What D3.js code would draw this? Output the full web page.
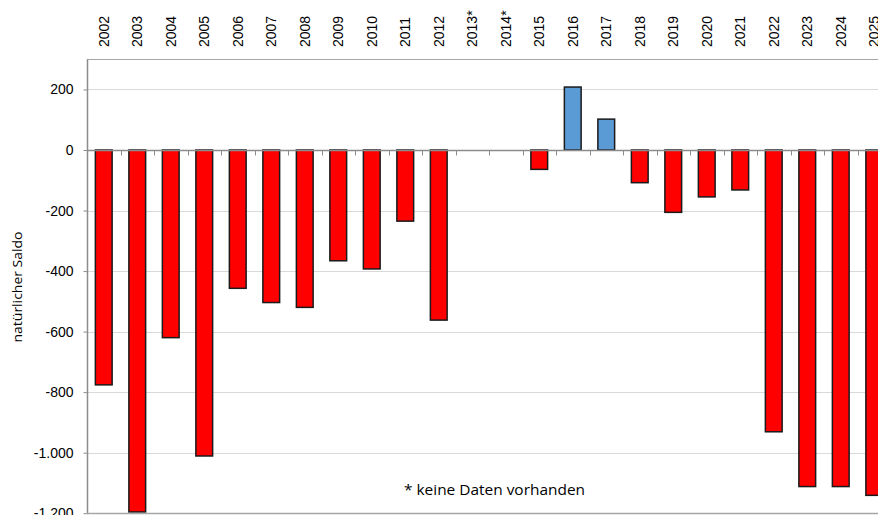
<!DOCTYPE html>
<html>
<head>
<meta charset="utf-8">
<script src="https://cdn.jsdelivr.net/npm/d3@7"></script>
<style>
    body { margin: 0; background: #fff; }
    svg { display: block; }
</style>
</head>
<body>
<svg id="chart"></svg>
<script>
// Natürlicher Saldo je Jahr (2013/2014: keine Daten)
const years = ['2002', '2003', '2004', '2005', '2006', '2007', '2008', '2009', '2010', '2011', '2012',
    '2013*', '2014*', '2015', '2016', '2017', '2018', '2019', '2020', '2021', '2022', '2023', '2024', '2025'];
const saldo = [-776, -1196, -620, -1011, -457, -504, -520, -366, -393, -235, -562,
    null, null, -64, 208, 102, -108, -206, -155, -132, -931, -1112, -1112, -1141];
const yTicks = [200, 0, -200, -400, -600, -800, -1000, -1200];

(function() {
    'use strict';

    const width = 878;
    const height = 515;
    const margin = { top: 59.2, left: 87 };
    const plotW = 804;   // plot runs past the right edge, as in the original
    const plotH = 454;

    const de = d3.formatLocale({ decimal: ',', thousands: '.', grouping: [3], currency: ['', ' €'], minus: '-' });
    const fmt = de.format(',d');

    const svg = d3.select('#chart')
        .attr('width', width)
        .attr('height', height);

    const x = d3.scaleBand()
        .domain(years)
        .range([margin.left, margin.left + plotW])
        .paddingInner(0.5)
        .paddingOuter(0.25);

    const y = d3.scaleLinear()
        .domain([300, -1200])
        .range([margin.top, margin.top + plotH]);

    // Gridlines
    svg.append('g')
        .selectAll('line')
        .data(yTicks)
        .enter()
        .append('line')
        .attr('x1', margin.left)
        .attr('x2', margin.left + plotW)
        .attr('y1', d => Math.round(y(d)) + 0.5)
        .attr('y2', d => Math.round(y(d)) + 0.5)
        .attr('stroke', '#d9d9d9')
        .attr('stroke-width', 1);

    // Top border
    svg.append('line')
        .attr('x1', margin.left)
        .attr('x2', margin.left + plotW)
        .attr('y1', Math.round(y(300)) + 0.5)
        .attr('y2', Math.round(y(300)) + 0.5)
        .attr('stroke', '#a6a6a6');

    // Bars
    svg.append('g')
        .selectAll('rect')
        .data(years.map((yr, i) => ({ year: yr, value: saldo[i] })).filter(d => d.value !== null))
        .enter()
        .append('rect')
        .attr('x', d => x(d.year))
        .attr('width', x.bandwidth())
        .attr('y', d => y(Math.max(0, d.value)))
        .attr('height', d => Math.abs(y(d.value) - y(0)))
        .attr('fill', d => d.value >= 0 ? '#5b9bd5' : '#ff0000')
        .attr('stroke', '#1a1a1a')
        .attr('stroke-width', 1.5);

    // Zero line with category ticks
    const y0 = Math.round(y(0)) + 0.5;
    svg.append('line')
        .attr('x1', margin.left)
        .attr('x2', margin.left + plotW)
        .attr('y1', y0)
        .attr('y2', y0)
        .attr('stroke', '#8c8c8c')
        .attr('stroke-width', 1.5);

    const gap = x.step() * x.paddingInner() / 2;
    svg.append('g')
        .selectAll('line')
        .data(years.slice(1))
        .enter()
        .append('line')
        .attr('x1', d => Math.round(x(d) - gap) + 0.5)
        .attr('x2', d => Math.round(x(d) - gap) + 0.5)
        .attr('y1', y0)
        .attr('y2', y0 + 5)
        .attr('stroke', '#8c8c8c');

    // Left axis
    const yAxis = svg.append('g')
        .attr('transform', `translate(${margin.left + 0.5},0)`)
        .call(d3.axisLeft(y).tickValues(yTicks).tickFormat(fmt).tickSize(4).tickSizeOuter(0));
    yAxis.select('.domain')
        .attr('stroke', '#8c8c8c')
        .attr('stroke-width', 1.5)
        .attr('d', `M0,${y(300)}V${y(-1200)}`);
    yAxis.selectAll('.tick line').attr('stroke', '#8c8c8c');
    yAxis.selectAll('.tick text')
        .attr('x', -14)
        .attr('fill', '#000')
        .attr('font-family', '"Liberation Sans", Arial, sans-serif')
        .attr('font-size', '14px');

    // Bottom border
    svg.append('line')
        .attr('x1', margin.left)
        .attr('x2', margin.left + plotW)
        .attr('y1', Math.round(y(-1200)) + 0.5)
        .attr('y2', Math.round(y(-1200)) + 0.5)
        .attr('stroke', '#a6a6a6')
        .attr('stroke-width', 1.5);

    // Year labels on top, rotated
    svg.append('g')
        .selectAll('text')
        .data(years)
        .enter()
        .append('text')
        .attr('transform', d => `translate(${x(d) + x.bandwidth() / 2},47) rotate(-90)`)
        .attr('text-anchor', 'start')
        .attr('dy', '0.36em')
        .attr('font-family', '"Liberation Sans", Arial, sans-serif')
        .attr('font-size', '14px')
        .attr('fill', '#000')
        .text(d => d);

    // Axis title
    svg.append('text')
        .attr('transform', 'translate(17,287) rotate(-90)')
        .attr('text-anchor', 'middle')
        .attr('dy', '0.35em')
        .attr('font-family', '"Open Sans", sans-serif')
        .attr('font-size', '13px')
        .attr('textLength', 111)
        .attr('lengthAdjust', 'spacingAndGlyphs')
        .attr('fill', '#000')
        .text('natürlicher Saldo');

    // Footnote
    svg.append('text')
        .attr('x', 404)
        .attr('y', 495)
        .attr('font-family', '"Open Sans", sans-serif')
        .attr('font-size', '14px')
        .attr('textLength', 181)
        .attr('lengthAdjust', 'spacingAndGlyphs')
        .attr('fill', '#000')
        .text('* keine Daten vorhanden');
})();
</script>
</body>
</html>
